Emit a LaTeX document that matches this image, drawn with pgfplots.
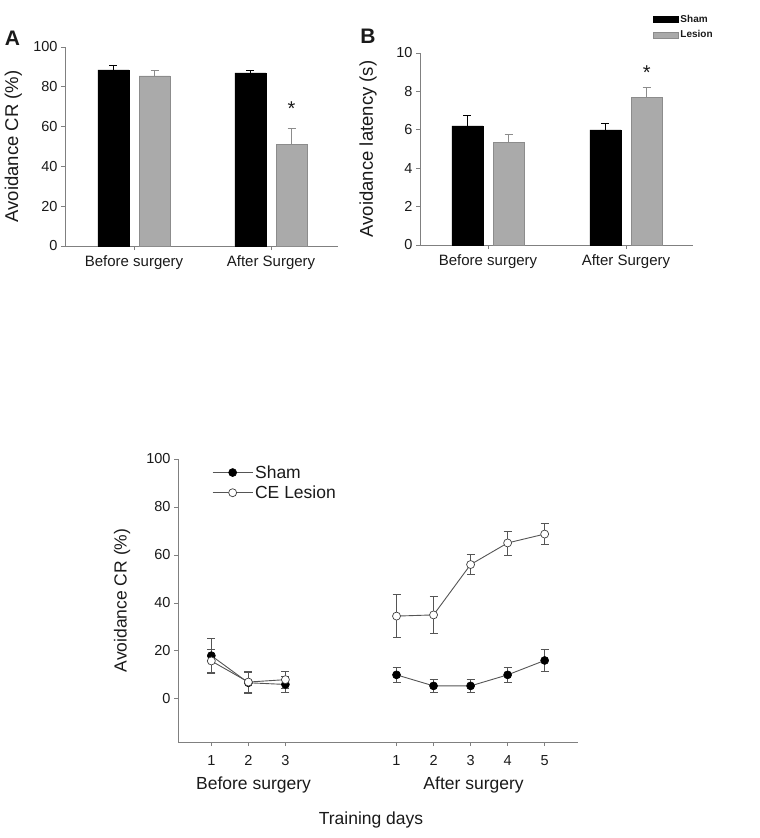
\documentclass[border=0pt]{standalone}
\usepackage{fontspec}
\setmainfont{Liberation Sans}
\usepackage{pgfplots}
\pgfplotsset{compat=1.18}
\definecolor{lesgray}{HTML}{AAAAAA}
\definecolor{lesedge}{HTML}{8C8C8C}
\definecolor{axgray}{HTML}{808080}
\definecolor{linegray}{HTML}{555555}
\definecolor{txt}{HTML}{1A1A1A}

\pgfplotsset{
  common/.style={
    scale only axis, anchor=south west,
    axis lines=left, axis line style={axgray, line width=0.8pt, -},
    tick style={axgray, line width=0.8pt}, tick align=outside, major tick length=4pt,
    /pgf/number format/assume math mode=true,
    ylabel style={at={(axis description cs:-0.19,0.5)}, anchor=center, text=txt},
    clip=false,
  },
  bars/.style={
    common,
    width=273pt,
    xtick={1,2}, xticklabels={Before surgery, After Surgery},
    yticklabel style={font=\fontsize{14.5}{16}\selectfont, text=txt},
    xticklabel style={font=\fontsize{15}{17}\selectfont, text=txt, yshift=-2pt},
    ylabel style={font=\fontsize{18.5}{20}\selectfont},
  },
  barerr/.style={/pgfplots/error bars/y dir=plus, /pgfplots/error bars/y explicit,
    /pgfplots/error bars/error bar style={#1, line width=0.8pt},
    /pgfplots/error bars/error mark options={rotate=90, mark size=4pt, #1, line width=0.8pt}},
  lineerr/.style={/pgfplots/error bars/y dir=both, /pgfplots/error bars/y explicit,
    /pgfplots/error bars/error bar style={linegray, line width=0.8pt},
    /pgfplots/error bars/error mark options={rotate=90, mark size=4pt, linegray, line width=0.8pt}},
  shamline/.style={draw=linegray, line width=0.9pt, mark=*, mark size=4pt,
    mark options={fill=black, draw=black, line width=0.6pt, solid}, lineerr},
  lesline/.style={draw=linegray, line width=0.9pt, mark=*, mark size=4pt,
    mark options={fill=white, draw=black!75, line width=0.7pt, solid}, lineerr},
}

\begin{document}
\begin{tikzpicture}
\path[use as bounding box] (0,0) rectangle (760pt,-838pt);

% ---------------- Panel A ----------------
\begin{axis}[bars, at={(65pt,-246pt)}, height=199pt,
  xmin=0.496, xmax=2.489, ymin=0, ymax=100, ytick={0,20,...,100},
  ylabel={Avoidance CR (\%)},
  ylabel style={at={(axis description cs:-0.189,0.5)}}]
\addplot[ybar, bar width=31pt, bar shift=0pt, fill=black, draw=black, barerr=black]
  coordinates {(0.85,88.5) +- (0,2.5) (1.85,87) +- (0,1.2)};
\addplot[ybar, bar width=31pt, bar shift=0pt, fill=lesgray, draw=lesedge, barerr=lesedge]
  coordinates {(1.15,85.5) +- (0,2.5) (2.15,51) +- (0,8)};
\node[font=\fontsize{20}{20}\selectfont, text=txt] at (axis cs:2.15,69) {*};
\end{axis}

% ---------------- Panel B ----------------
\begin{axis}[bars, at={(420pt,-245pt)}, height=192pt,
  xmin=0.507, xmax=2.486, ymin=0, ymax=10, ytick={0,2,...,10},
  ylabel={Avoidance latency (s)},
  ylabel style={at={(axis description cs:-0.19,0.5)}},
  legend style={at={(axis description cs:0.853,1.21)}, anchor=north west,
    draw=none, fill=none, inner sep=0pt, row sep=3pt,
    font=\bfseries\fontsize{10}{11}\selectfont, text=txt},
  legend cell align=left]
\addplot[ybar, bar width=31pt, bar shift=0pt, fill=black, draw=black,
  legend image code/.code={\draw[fill=black, draw=black] (0pt,-2.8pt) rectangle (25pt,2.8pt);}, barerr=black]
  coordinates {(0.85,6.2) +- (0,0.55) (1.85,6.0) +- (0,0.33)};
\addlegendentry{Sham}
\addplot[ybar, bar width=31pt, bar shift=0pt, fill=lesgray, draw=lesedge,
  legend image code/.code={\draw[fill=lesgray, draw=lesedge] (0pt,-2.8pt) rectangle (25pt,2.8pt);}, barerr=lesedge]
  coordinates {(1.15,5.33) +- (0,0.44) (2.15,7.7) +- (0,0.5)};
\addlegendentry{Lesion}
\node[font=\fontsize{20}{20}\selectfont, text=txt] at (axis cs:2.15,9.0) {*};
\end{axis}

% ---------------- Bottom panel ----------------
\begin{axis}[common, at={(178pt,-742pt)}, width=400pt, height=283pt,
  xmin=0.1, xmax=10.9, ymin=-18, ymax=100, ytick={0,20,...,100},
  xtick={1,2,3,6,7,8,9,10}, xticklabels={1,2,3,1,2,3,4,5},
  yticklabel style={font=\fontsize{14.5}{16}\selectfont, text=txt},
  xticklabel style={font=\fontsize{14.5}{16}\selectfont, text=txt, yshift=-6pt},
  ylabel={Avoidance CR (\%)},
  ylabel style={at={(axis description cs:-0.14,0.5)}, font=\fontsize{17.5}{20}\selectfont},
  xlabel={Training days},
  xlabel style={at={(axis description cs:0.4825,0)}, anchor=base, yshift=-82pt,
    font=\fontsize{17.5}{20}\selectfont, text=txt},
  legend style={at={(axis description cs:0.085,0.985)}, anchor=north west,
    draw=none, fill=none, inner sep=0pt, row sep=2pt,
    font=\fontsize{17.5}{20}\selectfont, text=txt},
  legend cell align=left,
  legend image code/.code={\draw[mark repeat=2, mark phase=2, #1]
    plot coordinates {(0pt,0pt) (20pt,0pt) (40pt,0pt)};}]
\addplot[shamline] coordinates {
  (1,18) +- (0,7) (2,6.7) +- (0,4.5) (3,6) +- (0,3.2)};
\addlegendentry{Sham}
\addplot[lesline] coordinates {
  (1,15.8) +- (0,5) (2,7) +- (0,4.5) (3,8) +- (0,3.5)};
\addlegendentry{CE Lesion}
\addplot[shamline, forget plot] coordinates {
  (6,10) +- (0,3.2) (7,5.4) +- (0,2.7) (8,5.4) +- (0,2.7) (9,10) +- (0,3.2) (10,16) +- (0,4.7)};
\addplot[lesline, forget plot] coordinates {
  (6,34.5) +- (0,9) (7,35) +- (0,7.8) (8,56) +- (0,4.3) (9,65) +- (0,5) (10,68.7) +- (0,4.5)};
\node[font=\fontsize{17.5}{20}\selectfont, text=txt, anchor=base] at (axis cs:2.14,-18) [yshift=-47pt] {Before surgery};
\node[font=\fontsize{17.5}{20}\selectfont, text=txt, anchor=base] at (axis cs:8.08,-18) [yshift=-47pt] {After surgery};
\end{axis}

\node[font=\bfseries\fontsize{21}{21}\selectfont, text=txt] at (12.5pt,-38pt) {A};
\node[font=\bfseries\fontsize{21}{21}\selectfont, text=txt] at (368pt,-36pt) {B};
\end{tikzpicture}
\end{document}
